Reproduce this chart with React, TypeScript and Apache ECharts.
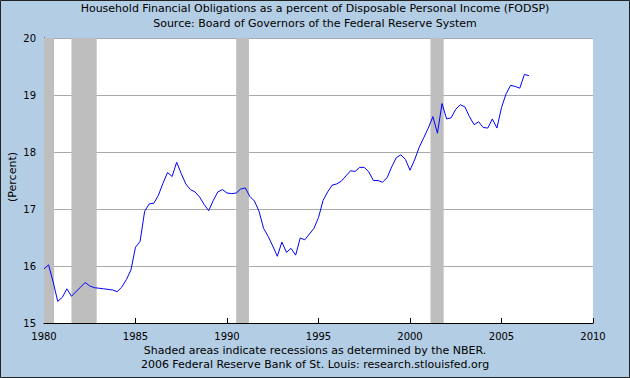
import React, { useEffect, useRef } from "react";
import * as echarts from "echarts";

const titleLines = [
  "Household Financial Obligations as a percent of Disposable Personal Income (FODSP)",
  "Source: Board of Governors of the Federal Reserve System",
];
const footerLines = [
  "Shaded areas indicate recessions as determined by the NBER.",
  "2006 Federal Reserve Bank of St. Louis: research.stlouisfed.org",
];
const yAxisTitle = "(Percent)";

const startYear = 1980;
const fodsp = [
  15.95, 16.02, 15.72, 15.38,
  15.45, 15.6, 15.47, 15.55,
  15.63, 15.71, 15.65, 15.62,
  15.61, 15.6, 15.59, 15.58,
  15.55, 15.63, 15.76, 15.93,
  16.33, 16.43, 16.96, 17.09,
  17.1, 17.24, 17.45, 17.64,
  17.57, 17.82, 17.62, 17.44,
  17.34, 17.3, 17.21, 17.08,
  16.97, 17.15, 17.3, 17.34,
  17.28, 17.27, 17.28, 17.35,
  17.37, 17.22, 17.14, 16.96,
  16.66, 16.52, 16.35, 16.17,
  16.42, 16.24, 16.31, 16.19,
  16.49, 16.46, 16.56, 16.66,
  16.85, 17.15, 17.3, 17.42,
  17.44, 17.49, 17.58, 17.67,
  17.66, 17.73, 17.73, 17.65,
  17.5, 17.5, 17.47, 17.55,
  17.74, 17.9, 17.95, 17.87,
  17.68, 17.86, 18.08, 18.25,
  18.42, 18.62, 18.33, 18.85,
  18.58, 18.6, 18.75, 18.83,
  18.79, 18.62, 18.48, 18.53,
  18.43, 18.42, 18.58, 18.42,
  18.78, 19.02, 19.17, 19.15,
  19.12, 19.36, 19.34,
];

const recessions: [number, number][] = [
  [1980.0, 1980.55],
  [1981.5, 1982.88],
  [1990.5, 1991.2],
  [2001.12, 2001.84],
];

const FONT = "DejaVu Sans";

export default function App() {
  const ref = useRef<HTMLDivElement>(null);
  useEffect(() => {
    if (!ref.current) return;
    const chart = echarts.init(ref.current, undefined, { renderer: "svg" });
    const data = fodsp.map((v, i) => [startYear + i / 4, v]);
    chart.setOption({
      animation: false,
      backgroundColor: "#b3cde4",
      grid: { left: 44, right: 37, top: 38, bottom: 55, show: true, backgroundColor: "#ffffff", borderWidth: 0 },
      xAxis: {
        type: "value",
        min: 1980,
        max: 2010,
        interval: 5,
        axisLine: { show: true, lineStyle: { color: "#000", width: 1 } },
        axisTick: { show: true, inside: true, length: 5, lineStyle: { color: "#000" } },
        axisLabel: { color: "#000", fontFamily: FONT, fontSize: 10, margin: 8, formatter: (v: number) => String(v) },
        splitLine: { show: false },
      },
      yAxis: {
        type: "value",
        min: 15,
        max: 20,
        interval: 1,
        axisLine: { show: true, lineStyle: { color: "#000", width: 1 } },
        axisTick: { show: true, inside: true, length: 5, lineStyle: { color: "#000" } },
        axisLabel: { color: "#000", fontFamily: FONT, fontSize: 10, margin: 8 },
        splitLine: { show: true, lineStyle: { color: "#aaaaaa", width: 1 } },
      },
      series: [
        {
          type: "line",
          data,
          symbol: "none",
          lineStyle: { color: "#0000ff", width: 1 },
          z: 3,
          markArea: {
            silent: true,
            itemStyle: { color: "#bebebe" },
            data: recessions.map(([a, b]) => [{ xAxis: a }, { xAxis: b }]),
          },
        },
      ],
      graphic: [
        {
          type: "text",
          left: "center",
          top: 3,
          style: { text: titleLines[0], font: `11px "${FONT}"`, fill: "#000" },
        },
        {
          type: "text",
          left: "center",
          top: 18,
          style: { text: titleLines[1], font: `11px "${FONT}"`, fill: "#000" },
        },
        {
          type: "text",
          left: "center",
          top: 345,
          style: { text: footerLines[0], font: `11px "${FONT}"`, fill: "#000" },
        },
        {
          type: "text",
          left: "center",
          top: 359,
          style: { text: footerLines[1], font: `11px "${FONT}"`, fill: "#000" },
        },
        {
          type: "text",
          x: 12,
          y: 177,
          rotation: Math.PI / 2,
          style: { text: yAxisTitle, font: `11px "${FONT}"`, fill: "#000", align: "center", verticalAlign: "middle" },
        },
        {
          type: "rect",
          shape: { x: 0.5, y: 0.5, width: 629, height: 377 },
          style: { fill: "none", stroke: "#222", lineWidth: 1 },
          silent: true,
        },
      ],
    });
    return () => chart.dispose();
  }, []);
  return (
    <div
      ref={ref}
      style={{ position: "fixed", left: 0, top: 0, width: 630, height: 378 }}
    />
  );
}
